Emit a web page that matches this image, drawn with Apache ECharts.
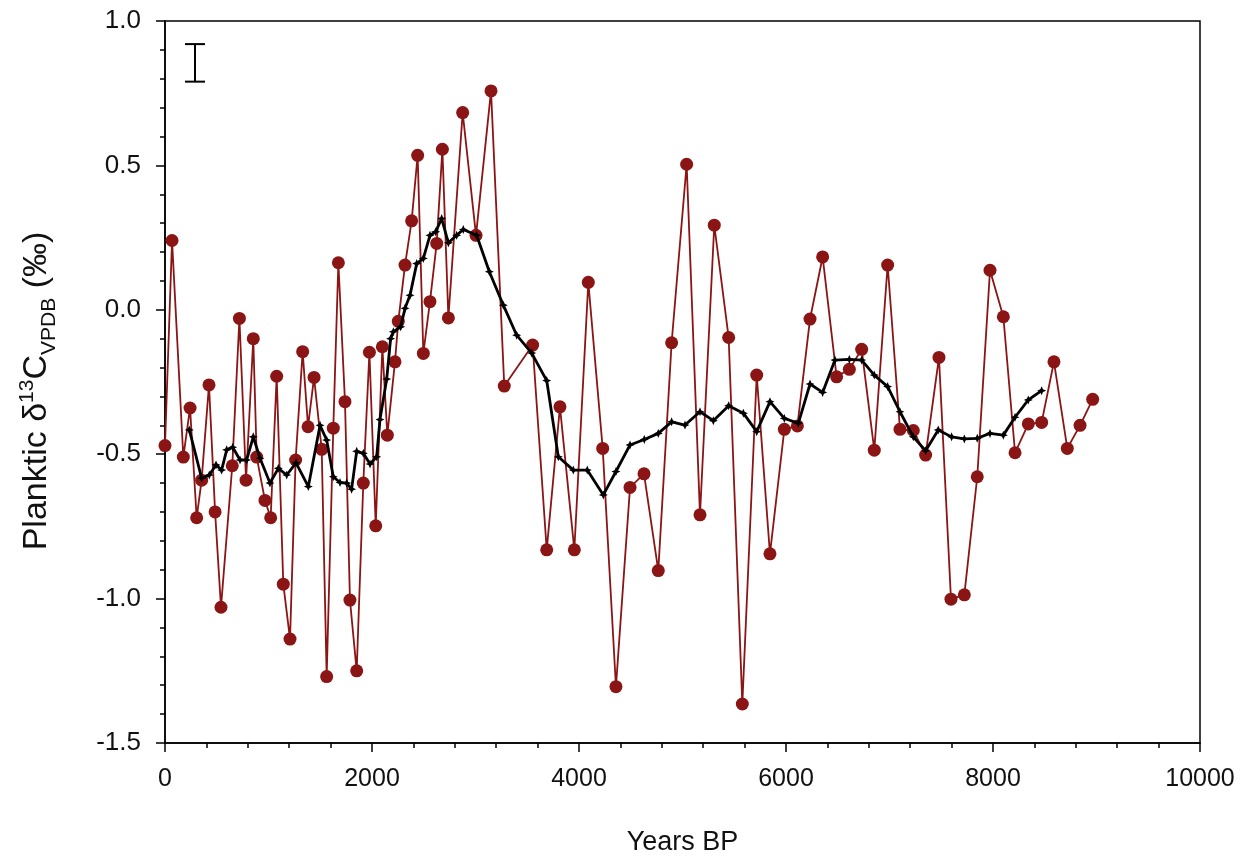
<!DOCTYPE html>
<html>
<head>
<meta charset="utf-8">
<script src="https://cdn.jsdelivr.net/npm/echarts@6/dist/echarts.min.js"></script>
<style>html,body{margin:0;padding:0;background:#fff;}#chart{width:1252px;height:863px;}</style>
</head>
<body>
<div id="chart"></div>
<script>
// Raw planktic d13C measurements (years BP, permil)
const rawYears = [0,68,177,242,306,354,425,484,541,650,719,783,853,886,966,1021,1079,1143,1208,1262,1330,1382,1440,1514,1562,1626,1675,1739,1787,1852,1916,1975,2036,2100,2148,2222,2254,2319,2383,2441,2496,2560,2625,2680,2738,2876,3005,3150,3278,3552,3688,3816,3955,4090,4229,4357,4493,4628,4766,4895,5040,5169,5307,5446,5578,5717,5845,5984,6110,6232,6354,6489,6612,6731,6853,6982,7101,7230,7349,7478,7594,7723,7848,7971,8100,8213,8341,8470,8589,8718,8841,8963];
const rawValues = [-0.47,0.24,-0.51,-0.34,-0.72,-0.59,-0.26,-0.70,-1.03,-0.54,-0.03,-0.59,-0.10,-0.51,-0.66,-0.72,-0.23,-0.95,-1.14,-0.52,-0.145,-0.405,-0.234,-0.483,-1.27,-0.41,0.163,-0.318,-1.005,-1.25,-0.60,-0.147,-0.748,-0.128,-0.434,-0.18,-0.04,0.155,0.308,0.535,-0.151,0.028,0.23,0.556,-0.028,0.683,0.258,0.758,-0.264,-0.122,-0.831,-0.336,-0.831,0.095,-0.48,-1.305,-0.615,-0.568,-0.903,-0.114,0.504,-0.71,0.293,-0.096,-1.365,-0.226,-0.845,-0.414,-0.402,-0.032,0.183,-0.232,-0.206,-0.137,-0.486,0.155,-0.414,-0.418,-0.503,-0.165,-1.002,-0.987,-0.578,0.137,-0.024,-0.495,-0.395,-0.39,-0.18,-0.48,-0.40,-0.31];
// Smoothed (running mean) curve
const smoothYears = [235,354,428,493,547,596,654,725,789,853,918,1014,1095,1176,1266,1385,1498,1562,1626,1691,1755,1803,1852,1916,1981,2045,2077,2142,2180,2206,2277,2319,2367,2432,2496,2560,2615,2673,2738,2818,2882,3011,3134,3269,3398,3543,3688,3800,3945,4080,4235,4357,4493,4631,4766,4895,5024,5169,5298,5446,5588,5717,5845,5984,6119,6232,6354,6473,6612,6731,6853,6982,7101,7230,7349,7471,7600,7723,7848,7971,8100,8213,8341,8470];
const smoothValues = [-0.416,-0.583,-0.572,-0.537,-0.555,-0.485,-0.476,-0.52,-0.52,-0.44,-0.514,-0.60,-0.549,-0.572,-0.53,-0.612,-0.40,-0.451,-0.578,-0.598,-0.60,-0.621,-0.49,-0.497,-0.534,-0.509,-0.38,-0.24,-0.10,-0.076,-0.059,0.005,0.05,0.16,0.178,0.258,0.27,0.316,0.232,0.258,0.278,0.258,0.132,0.016,-0.088,-0.15,-0.245,-0.509,-0.555,-0.555,-0.641,-0.56,-0.468,-0.449,-0.428,-0.388,-0.399,-0.353,-0.384,-0.332,-0.358,-0.422,-0.318,-0.376,-0.393,-0.257,-0.286,-0.174,-0.172,-0.174,-0.226,-0.266,-0.353,-0.44,-0.488,-0.416,-0.44,-0.447,-0.445,-0.428,-0.434,-0.372,-0.312,-0.28];
// Analytical uncertainty bar (top-left)
const errBarYear = 290;
const errBarLow = 0.79;
const errBarHigh = 0.92;

const FONT = '"Liberation Sans", Arial, sans-serif';
const chart = echarts.init(document.getElementById('chart'), null, {renderer: 'canvas'});
const starPath = 'path://M0,-10 L3,-3 L10,0 L3,3 L0,10 L-3,3 L-10,0 L-3,-3 Z';

chart.setOption({
  animation: false,
  backgroundColor: '#fff',
  grid: {left: 165, right: 52, top: 21, bottom: 120, show: true, borderColor: '#000', borderWidth: 1.5, backgroundColor: 'transparent'},
  xAxis: {
    type: 'value', min: 0, max: 10000, interval: 2000,
    name: 'Years BP', nameLocation: 'middle', nameGap: 86,
    nameTextStyle: {fontFamily: FONT, fontSize: 27, color: '#111'},
    axisLine: {show: true, onZero: false, lineStyle: {color: '#000', width: 1.5}},
    axisTick: {show: true, length: 9, lineStyle: {color: '#000', width: 1.5}},
    minorTick: {show: true, splitNumber: 5, length: 5, lineStyle: {color: '#000', width: 1.5}},
    splitLine: {show: false},
    axisLabel: {fontFamily: FONT, fontSize: 25, color: '#111', margin: 24, formatter: v => String(v)}
  },
  yAxis: {
    type: 'value', min: -1.5, max: 1.0, interval: 0.5,
    name: '{a|Planktic δ}{sup|13}{a|C}{sub|VPDB}{a| (‰)}',
    nameLocation: 'middle', nameGap: 105, nameRotate: 90,
    nameTextStyle: {
      fontFamily: FONT, fontSize: 34, color: '#111', padding: [0, 18, 0, 0],
      rich: {
        a: {fontFamily: FONT, fontSize: 34, color: '#111', lineHeight: 46},
        sup: {fontFamily: FONT, fontSize: 21, color: '#111', verticalAlign: 'top', lineHeight: 46, padding: [3,0,0,0]},
        sub: {fontFamily: FONT, fontSize: 21, color: '#111', verticalAlign: 'bottom', lineHeight: 46}
      }
    },
    axisLine: {show: true, onZero: false, lineStyle: {color: '#000', width: 1.5}},
    axisTick: {show: true, length: 9, lineStyle: {color: '#000', width: 1.5}},
    minorTick: {show: true, splitNumber: 5, length: 5, lineStyle: {color: '#000', width: 1.5}},
    splitLine: {show: false},
    axisLabel: {fontFamily: FONT, fontSize: 26, color: '#111', margin: 24, formatter: v => v.toFixed(1)}
  },
  series: [
    {
      type: 'line', name: 'raw',
      data: rawYears.map((x, i) => [x, rawValues[i]]),
      symbol: 'circle', symbolSize: 13,
      lineStyle: {color: '#8b1414', width: 1.8},
      itemStyle: {color: '#8b1414'},
      z: 2
    },
    {
      type: 'line', name: 'smooth',
      data: smoothYears.map((x, i) => [x, smoothValues[i]]),
      symbol: starPath, symbolSize: 9,
      lineStyle: {color: '#000', width: 2.8},
      itemStyle: {color: '#000'},
      z: 3
    },
    {
      type: 'custom', name: 'errbar',
      data: [[errBarYear, errBarLow, errBarHigh]],
      renderItem: function (params, api) {
        const lo = api.coord([api.value(0), api.value(1)]);
        const hi = api.coord([api.value(0), api.value(2)]);
        const h = 10;
        const st = {stroke: '#000', lineWidth: 2};
        return {type: 'group', children: [
          {type: 'line', shape: {x1: lo[0], y1: lo[1], x2: hi[0], y2: hi[1]}, style: st},
          {type: 'line', shape: {x1: lo[0]-h, y1: lo[1], x2: lo[0]+h, y2: lo[1]}, style: st},
          {type: 'line', shape: {x1: hi[0]-h, y1: hi[1], x2: hi[0]+h, y2: hi[1]}, style: st}
        ]};
      },
      z: 4
    }
  ]
});
</script>
</body>
</html>
